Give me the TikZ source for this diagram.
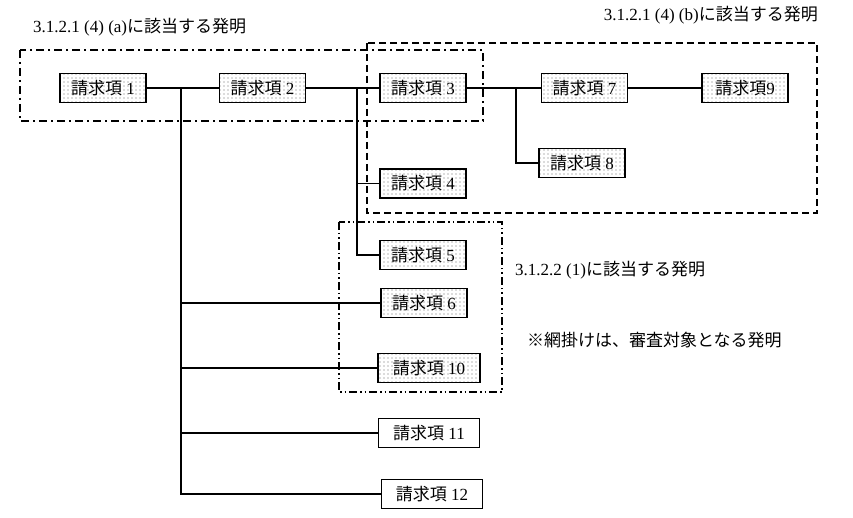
\documentclass[tikz,border=0pt]{standalone}
\usepackage{fontspec}
\setmainfont{Liberation Serif}
\newfontfamily\jp{Noto Sans CJK JP}
\usetikzlibrary{positioning,patterns}

\pgfdeclarepatternformonly{sparsedots}{\pgfpoint{-1pt}{-1pt}}{\pgfpoint{1pt}{1pt}}{\pgfpoint{4pt}{4pt}}%
  {\pgfpathcircle{\pgfpoint{0pt}{0pt}}{0.55pt}\pgfusepath{fill}}

\newcommand\claimword{{\jp 請求項}}

\tikzset{
  claim/.style={draw, line width=1.5pt, minimum width=86pt, minimum height=29pt,
    inner sep=0pt, pattern=sparsedots, pattern color=black!60, font=\fontsize{17}{19}\selectfont},
  plainclaim/.style={draw, line width=1.5pt, minimum width=101pt, minimum height=29pt,
    inner sep=0pt, fill=white, font=\fontsize{17}{19}\selectfont},
  link/.style={line width=1.5pt},
  note/.style={font=\fontsize{17}{19}\selectfont, inner sep=0pt},
  groupa/.style={line width=1.5pt, dash pattern=on 8pt off 4pt on 2pt off 4pt},
  groupb/.style={line width=1.5pt, dash pattern=on 7pt off 4pt},
  groupc/.style={line width=1.5pt, dash pattern=on 8pt off 3pt on 1.5pt off 3pt on 1.5pt off 3pt},
}

\begin{document}
\begin{tikzpicture}[x=1pt, y=-1pt]
  \useasboundingbox (0,0) rectangle (853,518);

  % claims along the top row
  \node[claim] (c1) at (103,88) {\claimword\ 1};
  \node[claim, right=72pt of c1] (c2) {\claimword\ 2};
  \node[claim, right=73pt of c2] (c3) {\claimword\ 3};
  \node[claim, right=74pt of c3] (c7) {\claimword\ 7};
  \node[claim, right=73pt of c7] (c9) {\claimword 9};

  \node[claim, below=65pt of c3] (c4) {\claimword\ 4};
  \node[claim, below=41pt of c4] (c5) {\claimword\ 5};
  \node[claim] (c8) at (582,163) {\claimword\ 8};
  \node[claim] (c6) at (424,303) {\claimword\ 6};
  \node[claim, minimum width=102pt] (c10) at (429,368) {\claimword\ 10};
  \node[plainclaim] (c11) at (429,433) {\claimword\ 11};
  \node[plainclaim] (c12) at (432,494) {\claimword\ 12};

  % branch points
  \coordinate (t1) at (181,88);
  \coordinate (t1end) at (181,493);
  \coordinate (t2) at (357,88);
  \coordinate (t3) at (516,88);

  \draw[link] (c1) -- (c2);
  \draw[link] (c2) -- (c3);
  \draw[link] (c3) -- (c7);
  \draw[link] (c7) -- (c9);

  \draw[link] (t1) -- (t1end);
  \draw[link] (t1) |- (c6.west);
  \draw[link] (t1) |- (c10.west);
  \draw[link] (t1) |- (c11.west);
  \draw[link] (t1) |- (c12.west);

  \draw[link] (t2) |- (c4.west);
  \draw[link] (t2) |- (c5.west);

  \draw[link] (t3) |- (c8.west);

  % groups
  \draw[groupa] (20,50) rectangle (483,121);
  \draw[groupb] (367,43) rectangle (817,213);
  \draw[groupc] (339,222) rectangle (502,392);

  \node[note, anchor=west] (la) at (33,27) {3.1.2.1 (4) (a){\jp に該当する発明}};
  \node[note, anchor=east] (lb) at (818,15) {3.1.2.1 (4) (b){\jp に該当する発明}};
  \node[note, anchor=west] (lc) at (515,270) {3.1.2.2 (1){\jp に該当する発明}};
  \node[note, anchor=west] (hint) at (527,340) {\jp ※網掛けは、審査対象となる発明};
\end{tikzpicture}
\end{document}
